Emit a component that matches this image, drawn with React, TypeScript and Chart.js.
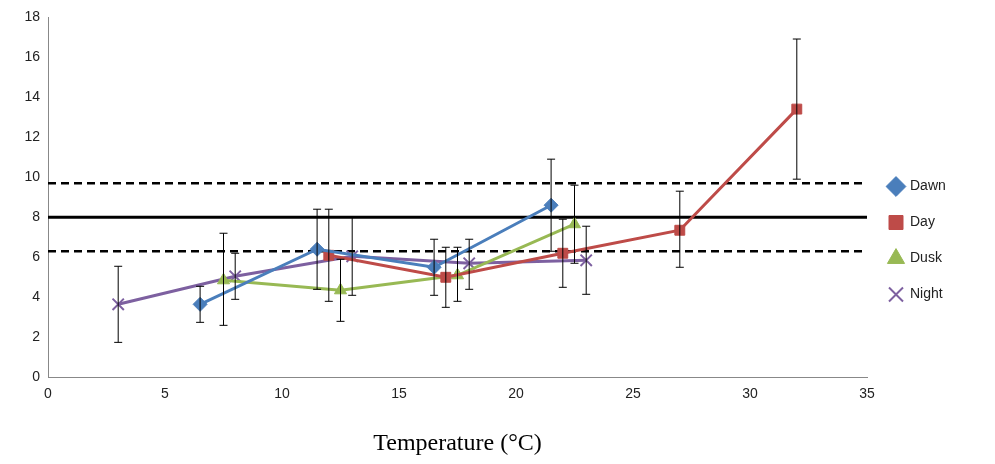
import { useEffect, useRef } from 'react';
import { Chart, registerables } from 'chart.js';

Chart.register(...registerables);

const dawnX = [6.5, 11.5, 16.5, 21.5];
const dawnY = [3.65, 6.4, 5.5, 8.6];
const dawnLo = [2.75, 4.4, 4.1, 6.3];
const dawnHi = [4.55, 8.4, 6.9, 10.9];

const dayX = [12, 17, 22, 27, 32];
const dayY = [6.1, 5.0, 6.2, 7.35, 13.4];
const dayLo = [3.8, 3.5, 4.5, 5.5, 9.9];
const dayHi = [8.4, 6.5, 7.9, 9.3, 16.9];

const duskX = [7.5, 12.5, 17.5, 22.5];
const duskY = [4.85, 4.35, 5.1, 7.65];
const duskLo = [2.6, 2.8, 3.8, 5.7];
const duskHi = [7.2, 5.9, 6.5, 9.6];

const nightX = [3, 8, 13, 18, 23];
const nightY = [3.65, 5.05, 6.05, 5.7, 5.85];
const nightLo = [1.75, 3.9, 4.1, 4.4, 4.15];
const nightHi = [5.55, 6.2, 8.0, 6.9, 7.55];

const refSolid = 8;
const refDashed = [9.7, 6.3];

const pts = (xs: number[], ys: number[]) => xs.map((x, i) => ({ x, y: ys[i] }));

const errorBars = {
  id: 'errorBars',
  afterDatasetsDraw(chart: any) {
    const { ctx, scales } = chart;
    ctx.save();
    ctx.strokeStyle = '#000';
    ctx.lineWidth = 1;
    chart.data.datasets.forEach((ds: any) => {
      if (!ds.errLo) return;
      ds.data.forEach((p: any, i: number) => {
        const x = scales.x.getPixelForValue(p.x);
        const y1 = scales.y.getPixelForValue(ds.errLo[i]);
        const y2 = scales.y.getPixelForValue(ds.errHi[i]);
        ctx.beginPath();
        ctx.moveTo(x, y1); ctx.lineTo(x, y2);
        ctx.moveTo(x - 4, y1); ctx.lineTo(x + 4, y1);
        ctx.moveTo(x - 4, y2); ctx.lineTo(x + 4, y2);
        ctx.stroke();
      });
    });
    ctx.restore();
  },
};

export default function App() {
  const canvasRef = useRef<HTMLCanvasElement>(null);

  useEffect(() => {
    if (!canvasRef.current) return;
    const series = (label: string, color: string, style: string, r: number, xs: number[], ys: number[], lo: number[], hi: number[]) => ({
      label, data: pts(xs, ys), errLo: lo, errHi: hi,
      borderColor: color, backgroundColor: color, borderWidth: 3,
      pointStyle: style, pointRadius: r, pointBorderWidth: style === 'crossRot' ? 2 : 1,
      showLine: true, order: 1,
    });
    const ref = (y: number, dashed: boolean) => ({
      label: '', data: [{ x: 0, y }, { x: 35, y }], borderColor: '#000', borderWidth: dashed ? 2.5 : 3,
      borderDash: dashed ? [8, 5] : [], pointRadius: 0, showLine: true, order: 2,
    });
    const chart = new Chart(canvasRef.current, {
      type: 'scatter',
      data: {
        datasets: [
          series('Dawn', '#4a7ebb', 'rectRot', 7, dawnX, dawnY, dawnLo, dawnHi),
          series('Day', '#be4b48', 'rect', 7, dayX, dayY, dayLo, dayHi),
          series('Dusk', '#98b954', 'triangle', 7, duskX, duskY, duskLo, duskHi),
          series('Night', '#7d60a0', 'crossRot', 8, nightX, nightY, nightLo, nightHi),
          ref(refSolid, false),
          ...refDashed.map(y => ref(y, true)),
        ] as any,
      },
      options: {
        animation: false,
        responsive: true,
        maintainAspectRatio: false,
        layout: { padding: { top: 17, right: 20 } },
        plugins: {
          tooltip: { enabled: false },
          legend: {
            position: 'right',
            labels: {
              filter: item => item.text !== '',
              usePointStyle: true,
              color: '#222',
              font: { size: 14, family: 'Liberation Sans' },
              padding: 22,
            },
          },
        },
        scales: {
          x: {
            type: 'linear', min: 0, max: 35,
            ticks: { stepSize: 5, color: '#222', font: { size: 14, family: 'Liberation Sans' } },
            grid: { display: false, drawTicks: true, tickLength: 5, color: '#888' },
            border: { color: '#888' },
            title: { display: true, text: 'Temperature (°C)', color: '#000', font: { size: 24, family: 'Liberation Serif' }, padding: { top: 24, bottom: 6 } },
          },
          y: {
            min: 0, max: 18,
            ticks: { stepSize: 2, color: '#222', font: { size: 14, family: 'Liberation Sans' } },
            grid: { display: false, tickLength: 5, color: '#888' },
            border: { color: '#888' },
            afterFit: (s: any) => { s.width = 48; },
          },
        },
      },
      plugins: [errorBars,
        { id: 'legendW', beforeInit(c: any) { const orig = c.legend?.fit; if (c.legend && orig) c.legend.fit = function () { orig.call(this); this.width = 108; }; } } as any],
    });
    return () => chart.destroy();
  }, []);

  return (
    <div style={{ position: 'fixed', inset: 0, background: '#fff' }}>
      <canvas ref={canvasRef} />
    </div>
  );
}
